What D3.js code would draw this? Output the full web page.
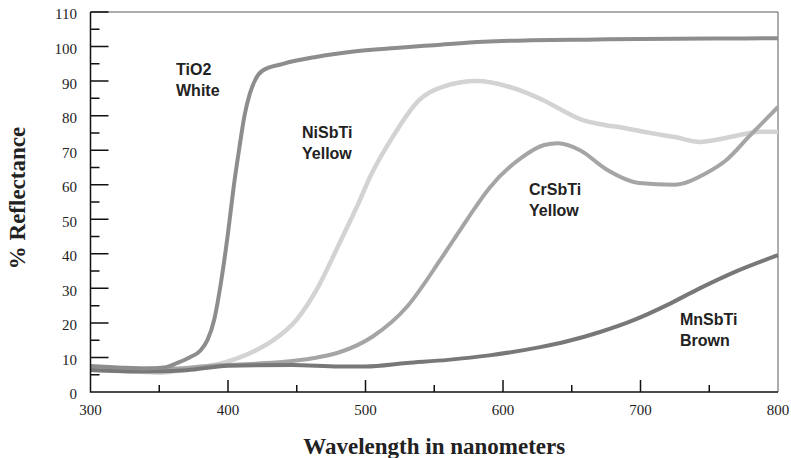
<!DOCTYPE html>
<html>
<head>
<meta charset="utf-8">
<script src="https://d3js.org/d3.v7.min.js"></script>
<style>
  body { margin: 0; background: #fff; }
  svg { display: block; }
</style>
</head>
<body>
<script>
// reflectance curves: [wavelength nm, % reflectance]
var tio2 = [[300,7.5],[320,7.1],[340,6.8],[355,7.2],[363,8.4],[372,10],[380,12],[385,15],[390,21],[395,32],[400,46],[404,59],[408,70],[412,80],[416,86.5],[420,90.5],[425,93],[440,95],[464,97],[490,98.5],[522,99.6],[550,100.4],[586,101.4],[620,101.8],[660,102],[700,102.2],[750,102.3],[800,102.4]];
var nisbti = [[300,6.5],[320,6.2],[340,5.8],[350,5.6],[370,6.5],[399,8.7],[420,12],[433,15],[450,21],[465,30],[481,43],[496,55.6],[503,62],[520,74],[539,84.5],[556,88.3],[581,90],[605,88.3],[629,84.5],[641,82],[658,78.7],[670,77.6],[690,76.3],[707,75],[725,73.8],[743,72.4],[760,73.4],[772,74.4],[787,75.3],[800,75.3]];
var crsbti = [[300,7.2],[330,6.8],[360,6.8],[387,7.6],[420,8.2],[447,9],[465,10],[481,11.5],[505,16],[530,24.6],[554,38],[564,44],[574,50],[590,59],[614,68],[630,71.5],[640,72],[656,70],[675,64.5],[699,60.5],[724,60],[748,63.4],[762,67],[779,74],[800,82.5]];
var mnsbti = [[300,6.4],[340,5.9],[370,6.3],[400,7.6],[447,7.8],[481,7.4],[500,7.4],[530,8.4],[560,9.3],[590,10.6],[627,13],[646,14.6],[670,17.3],[695,20.8],[720,25.3],[743,30],[770,35],[800,39.6]];

var seriesNames = ["MnSbTi Brown", "CrSbTi Yellow", "NiSbTi Yellow", "TiO2 White"];
var xTicks = [300, 400, 500, 600, 700, 800];
var xMinorTicks = [350, 450, 550, 650, 750];
var yTicks = [0, 10, 20, 30, 40, 50, 60, 70, 80, 90, 100, 110];
var yMinorTicks = [5, 15, 25, 35, 45, 55, 65, 75, 85, 95, 105];

var w = 791, h = 458;
var pLeft = 90.5, pRight = 778, pTop = 12, pBottom = 392;

var xScale = d3.scaleLinear().domain([300, 800]).range([pLeft, pRight]);
var yScale = d3.scaleLinear().domain([0, 110]).range([pBottom, pTop]);

var svg = d3.select("body").append("svg")
    .attr("width", w)
    .attr("height", h);

// frame (top + right)
svg.append("path")
    .attr("d", "M" + pLeft + "," + pTop + "H" + pRight + "V" + pBottom)
    .attr("fill", "none").attr("stroke", "#5a5a5a").attr("stroke-width", 1);

// curves
var lineGen = d3.line()
    .x(function(d){ return xScale(d[0]); })
    .y(function(d){ return yScale(d[1]); })
    .curve(d3.curveMonotoneX);

var curves = [
    {data: nisbti, color: "#d3d3d3", width: 4.5},
    {data: crsbti, color: "#a5a5a5", width: 4},
    {data: mnsbti, color: "#787878", width: 4},
    {data: tio2, color: "#8d8d8d", width: 4}
];
curves.forEach(function(c){
    svg.append("path")
        .attr("fill", "none")
        .attr("stroke", c.color)
        .attr("stroke-width", c.width)
        .attr("stroke-linejoin", "round")
        .attr("d", lineGen(c.data));
});

// axes and tick marks as one path: y ticks point right, x ticks point up
var tickPath = "M" + pLeft + "," + pTop + "V" + pBottom + "H" + pRight;
yTicks.slice(1).forEach(function(d){ tickPath += "M" + pLeft + "," + yScale(d) + "h18"; });
yMinorTicks.forEach(function(d){ tickPath += "M" + pLeft + "," + yScale(d) + "h9"; });
xTicks.slice(1, -1).forEach(function(d){ tickPath += "M" + xScale(d) + "," + pBottom + "v-12"; });
xMinorTicks.forEach(function(d){ tickPath += "M" + xScale(d) + "," + pBottom + "v-7"; });
svg.append("path")
    .attr("d", tickPath)
    .attr("fill", "none").attr("stroke", "#111").attr("stroke-width", 1.5);

svg.append("g").selectAll("text").data(yTicks).enter().append("text")
    .attr("x", 77).attr("y", function(d){ return yScale(d) + 4; })
    .attr("text-anchor", "end").attr("dominant-baseline", "middle")
    .attr("font-family", "Liberation Serif").attr("font-size", 15).attr("fill", "#222")
    .text(function(d){ return d; });

svg.append("g").selectAll("text").data(xTicks).enter().append("text")
    .attr("x", function(d){ return xScale(d); }).attr("y", 412)
    .attr("text-anchor", "middle").attr("dominant-baseline", "middle")
    .attr("font-family", "Liberation Serif").attr("font-size", 15).attr("fill", "#222")
    .text(function(d){ return d; });

// axis titles
svg.append("text")
    .attr("x", (pLeft + pRight) / 2).attr("y", 454)
    .attr("text-anchor", "middle")
    .attr("font-family", "Liberation Serif").attr("font-weight", "bold").attr("font-size", 23)
    .attr("fill", "#222")
    .text("Wavelength in nanometers");

svg.append("text")
    .attr("transform", "translate(25,198) rotate(-90)")
    .attr("text-anchor", "middle")
    .attr("font-family", "Liberation Serif").attr("font-weight", "bold").attr("font-size", 23)
    .attr("fill", "#222")
    .text("% Reflectance");

// curve labels
var labelPos = [[680, 325], [529, 195], [302, 138], [176, 75]];
seriesNames.forEach(function(name, i){
    var parts = name.split(" ");
    var t = svg.append("text")
        .attr("font-family", "Liberation Sans").attr("font-weight", "bold").attr("font-size", 16)
        .attr("fill", "#222");
    t.append("tspan").attr("x", labelPos[i][0]).attr("y", labelPos[i][1]).text(parts[0]);
    t.append("tspan").attr("x", labelPos[i][0]).attr("y", labelPos[i][1] + 21).text(parts[1]);
});
</script>
</body>
</html>
